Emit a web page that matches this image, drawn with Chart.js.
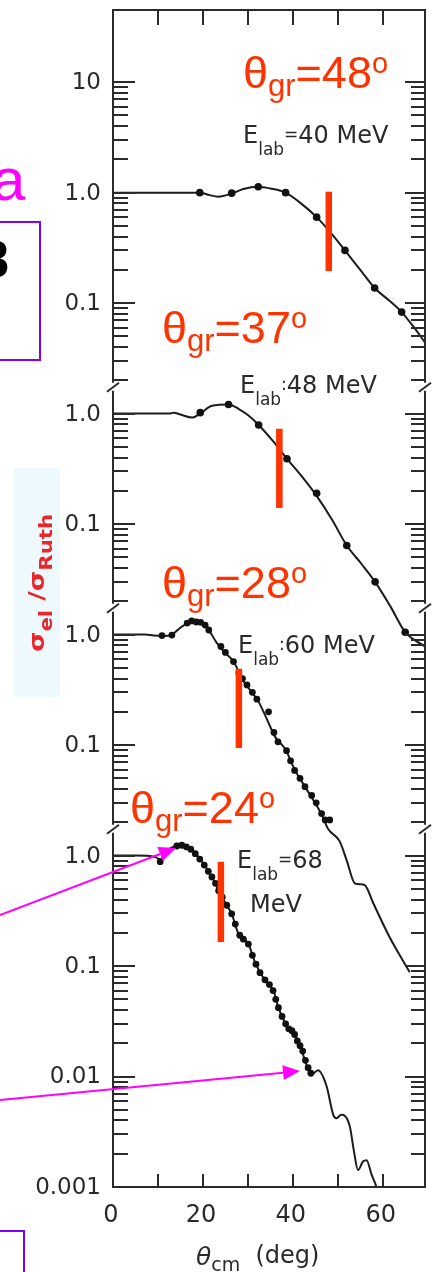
<!DOCTYPE html>
<html>
<head>
<meta charset="utf-8">
<script src="https://cdn.jsdelivr.net/npm/chart.js@4.4.0/dist/chart.umd.min.js"></script>
<style>
  html, body { margin: 0; padding: 0; background: #fff; }
  canvas { display: block; }
</style>
</head>
<body>
<canvas id="chart" width="442" height="1272"></canvas>
<script>
// --- DATA ---
const energies = ['40', '48', '60', '68'];
const separators = ['=', ':', ':', '='];
const grazingAngles = [48, 37, 28, 24];
const grazingBarTop = [1.02, 0.73, 0.49, 0.88];
const grazingBarBottom = [0.195, 0.14, 0.094, 0.165];
// each energy sits two decades above the one below it on the shared axis
const panelShift = [1e6, 1e4, 1e2, 1];

// optical model curves, [theta_cm, sigma/sigma_Ruth]
const theory40 = [[0, 1.0], [10, 1.0], [19.3, 1.0], [21.5, 0.95], [23.4, 0.92], [26.4, 0.98], [29, 1.08], [32.3, 1.13],
  [35, 1.09], [38.4, 1.0], [41.8, 0.8], [45.3, 0.6], [48.5, 0.43], [51.6, 0.3], [55, 0.2], [58.2, 0.137],
  [61.5, 0.105], [64.2, 0.083], [67, 0.06], [69.4, 0.044]];
const theory48 = [[0, 1.0], [10, 1.0], [12.5, 1.0], [13.5, 1.02], [15, 0.98], [17.6, 0.92], [19.4, 1.0], [22, 1.18],
  [25.7, 1.21], [28, 1.1], [30, 0.97], [32.4, 0.79], [35.5, 0.57], [38.7, 0.39], [42, 0.27], [45.3, 0.18],
  [48.7, 0.11], [52, 0.064], [55.2, 0.044], [58.3, 0.030], [61.7, 0.018], [65, 0.0105], [69.4, 0.0078]];
const theory60 = [[0, 1.0], [5, 1.0], [7.2, 1.0], [9, 0.98], [10.9, 0.97], [13.1, 1.0], [15.3, 1.18], [17.6, 1.3],
  [19.5, 1.28], [21.3, 1.1], [23, 0.85], [25, 0.68], [26.8, 0.57], [29, 0.38], [30.9, 0.3], [32.4, 0.246],
  [34, 0.18], [36.1, 0.118], [38.3, 0.092], [40.5, 0.059], [42.7, 0.042], [44.2, 0.0335], [46.4, 0.0236],
  [47.9, 0.0173], [50.4, 0.0135], [52, 0.009], [53.8, 0.0056], [55, 0.0055], [56, 0.0054], [57.9, 0.0037],
  [61.6, 0.0018], [66, 0.00088]];
const theory68 = [[0, 1.0], [5, 1.0], [9.4, 0.97], [10.5, 0.92], [12.7, 1.16], [15.3, 1.24], [17.6, 1.12],
  [19.8, 0.88], [22, 0.64], [23.5, 0.48], [25.3, 0.354], [26.4, 0.297], [27.9, 0.196], [30.1, 0.159],
  [31.6, 0.108], [33.8, 0.074], [35.7, 0.06], [36.8, 0.042], [38.6, 0.029], [40.4, 0.024], [41.9, 0.0175],
  [43, 0.0129], [44.2, 0.0104], [45.6, 0.0114], [47.5, 0.0082], [49, 0.0045], [49.7, 0.0042], [50.8, 0.0045],
  [51.6, 0.0044], [52.7, 0.0035], [53.6, 0.0021], [54.5, 0.00142], [55.6, 0.0017], [56.4, 0.00175],
  [57.5, 0.0013], [58.6, 0.001], [59.5, 0.0007]];

// measured points
const data40 = [[19.3, 1.0], [26.4, 0.99], [32.3, 1.13], [38.4, 1.0], [45.3, 0.6], [51.6, 0.3], [58.2, 0.137], [64.2, 0.083]];
const data48 = [[19.4, 1.02], [25.7, 1.21], [32.4, 0.79], [38.7, 0.39], [45.3, 0.19], [52, 0.064], [58.3, 0.030], [65, 0.0105]];
const data60 = [[10.9, 0.98], [13.1, 0.99], [16.5, 1.27], [17.5, 1.33], [18.5, 1.3], [19.5, 1.29], [20.5, 1.22],
  [21.3, 1.1], [24, 0.78], [25, 0.69], [26.8, 0.57], [28, 0.45], [28.8, 0.40], [29.8, 0.35], [31, 0.3],
  [32, 0.26], [34.6, 0.2], [35.8, 0.13], [36.7, 0.107], [38.6, 0.089], [39.5, 0.072], [40.4, 0.059],
  [41.6, 0.05], [42.7, 0.042], [44.2, 0.035], [45.2, 0.03], [46.4, 0.024], [47.2, 0.021], [48.2, 0.021]];
const data68 = [[10.5, 0.88], [14.2, 1.22], [15.3, 1.24], [16.3, 1.2], [17.3, 1.14], [18.3, 1.04], [19.3, 0.93],
  [20.3, 0.82], [21.2, 0.72], [22, 0.64], [22.8, 0.56], [23.5, 0.48], [24.3, 0.42], [25.3, 0.355], [26.4, 0.297],
  [27.2, 0.24], [28.2, 0.19], [29, 0.175], [30.1, 0.158], [31, 0.125], [31.8, 0.104], [32.7, 0.087], [33.8, 0.075],
  [34.8, 0.068], [35.6, 0.06], [36.2, 0.05], [36.8, 0.042], [37.6, 0.035], [38.4, 0.03], [39.1, 0.027],
  [39.8, 0.026], [40.4, 0.024], [41, 0.021], [41.6, 0.019], [42.2, 0.017], [42.8, 0.014], [43.4, 0.012], [44, 0.0107]];

// axis ticks
const xTickValues = [10, 20, 30, 40, 50, 60];
const xLabelValues = [0, 20, 40, 60];
const yTickValues = [[10, 1, 0.1], [1, 0.1], [1, 0.1], [1, 0.1, 0.01, 0.001]];
const yTickText = [['10', '1.0', '0.1'], ['1.0', '0.1'], ['1.0', '0.1'], ['1.0', '0.1', '0.01', '0.001']];
const tickFloor = [0.02, 0.02, 0.02, 0.001];
const tickCeil = [10, 1, 1, 1];

const theory = [theory40, theory48, theory60, theory68];
const measured = [data40, data48, data60, data68];

// --- DATASETS ---
const datasets = [];
energies.forEach((e, i) => {
  const shift = panelShift[i];
  const toXY = ([t, r]) => ({ x: t, y: r * shift });
  datasets.push({
    label: 'theta_gr ' + e,
    data: [{ x: grazingAngles[i], y: grazingBarTop[i] * shift }, { x: grazingAngles[i], y: grazingBarBottom[i] * shift }],
    showLine: true, borderColor: '#ff3300', borderWidth: 6.5, borderCapStyle: 'butt', pointRadius: 0, order: 0
  });
  datasets.push({
    label: 'data ' + e,
    data: measured[i].map(toXY),
    pointRadius: i < 2 ? 3.8 : 3.4, backgroundColor: '#111', borderWidth: 0, order: 1
  });
  datasets.push({
    label: 'fit ' + e,
    data: theory[i].map(toXY),
    showLine: true, borderColor: '#1c1c1c', borderWidth: 2, pointRadius: 0,
    cubicInterpolationMode: 'monotone', order: 2
  });
});

// --- DRAWING HELPERS ---
function line(ctx, x1, y1, x2, y2) {
  ctx.beginPath();
  ctx.moveTo(x1, y1);
  ctx.lineTo(x2, y2);
  ctx.stroke();
}

// text pieces written one after another: [text, font, baseline shift]
function run(ctx, x, y, parts) {
  parts.forEach(([t, font, dy]) => {
    ctx.font = font;
    ctx.fillText(t, x, y + dy);
    x += ctx.measureText(t).width;
  });
}

function arrow(ctx, x1, y1, x2, y2) {
  const a = Math.atan2(y2 - y1, x2 - x1);
  const head = 17, half = 7.5;
  const bx = x2 - head * Math.cos(a), by = y2 - head * Math.sin(a);
  line(ctx, x1, y1, bx, by);
  ctx.beginPath();
  ctx.moveTo(x2, y2);
  ctx.lineTo(bx + half * Math.sin(a), by - half * Math.cos(a));
  ctx.lineTo(bx - half * Math.sin(a), by + half * Math.cos(a));
  ctx.closePath();
  ctx.fill();
}

// --- FRAME, TICKS AND LABELS ---
const decor = {
  id: 'decor',
  beforeDraw(chart) {
    const ctx = chart.ctx;
    ctx.save();
    ctx.fillStyle = '#fff';
    ctx.fillRect(0, 0, chart.width, chart.height);
    ctx.fillStyle = '#edf9fc';
    ctx.fillRect(14, 468, 46, 229);
    ctx.restore();
  },
  afterDraw(chart) {
    const ctx = chart.ctx;
    const { left, right, top, bottom } = chart.chartArea;
    const xs = chart.scales.x, ys = chart.scales.y;
    ctx.save();
    ctx.strokeStyle = '#2b2b2b';
    ctx.lineWidth = 2;

    // axis breaks just above each lower energy
    const breaks = panelShift.slice(1).map(s => ys.getPixelForValue(1.75 * s));
    [left, right].forEach(xPos => {
      let y0 = top;
      breaks.forEach(b => { line(ctx, xPos, y0, xPos, b - 4); y0 = b + 4; });
      line(ctx, xPos, y0, xPos, bottom);
      breaks.forEach(b => line(ctx, xPos - 6, b + 5, xPos + 6, b - 4));
    });
    line(ctx, left - 1, top, right + 1, top);
    line(ctx, left - 1, bottom, right + 1, bottom);

    // log ticks, pointing inwards on both sides
    panelShift.forEach((shift, p) => {
      const lo = tickFloor[p], hi = tickCeil[p];
      for (let k = Math.floor(Math.log10(lo) + 1e-9); k <= Math.round(Math.log10(hi)); k++) {
        for (let m = 1; m <= 9; m++) {
          const v = m * Math.pow(10, k);
          if (v < lo * 0.999 || v > hi * 1.001) continue;
          const yPix = Math.round(ys.getPixelForValue(v * shift));
          line(ctx, left, yPix, left + (m === 1 ? 22 : 15), yPix);
          line(ctx, right, yPix, right - (m === 1 ? 20 : 14), yPix);
        }
      }
    });
    xTickValues.forEach(t => {
      const xPix = Math.round(xs.getPixelForValue(t));
      line(ctx, xPix, bottom, xPix, bottom - 13);
      line(ctx, xPix, top, xPix, top + 15);
    });

    ctx.fillStyle = '#2a2a2a';
    ctx.font = '23px "DejaVu Sans"';
    ctx.textAlign = 'right';
    ctx.textBaseline = 'middle';
    yTickValues.forEach((vals, p) => vals.forEach((v, j) => {
      ctx.fillText(yTickText[p][j], left - 12, ys.getPixelForValue(v * panelShift[p]) + 1);
    }));
    ctx.font = '24px "DejaVu Sans"';
    ctx.textAlign = 'center';
    ctx.textBaseline = 'alphabetic';
    xLabelValues.forEach(t => ctx.fillText(String(t), xs.getPixelForValue(t) - 2, 1222));

    ctx.textAlign = 'left';
    run(ctx, 196, 1265, [['θ', 'italic 25px "DejaVu Sans"', 0], ['cm', '19px "DejaVu Sans"', 6], ['  (deg)', '24px "DejaVu Sans"', -2]]);

    // beam energy labels
    const eSpots = [[243, 143], [240, 393], [238, 653], [237, 868]];
    energies.forEach((e, i) => {
      const [ex, ey] = eSpots[i];
      const rest = i === 3 ? e : e + ' MeV';
      run(ctx, ex, ey, [['E', '24px "DejaVu Sans"', 0], ['lab', '17px "DejaVu Sans"', 12],
        [separators[i], '17px "DejaVu Sans"', -3], [rest, '24px "DejaVu Sans"', 0]]);
    });
    ctx.font = '24px "DejaVu Sans"';
    ctx.fillText('MeV', 250, 912);

    // grazing angles
    const grSpots = [[243, 88], [162, 343], [162, 598], [130, 823]];
    ctx.fillStyle = '#ff3300';
    grazingAngles.forEach((g, i) => {
      const [gx, gy] = grSpots[i];
      run(ctx, gx, gy, [['θ', '45px "Liberation Sans"', 0], ['gr', '31px "Liberation Sans"', 8],
        ['=' + g, '45px "Liberation Sans"', 0], ['o', '29px "Liberation Sans"', -15]]);
    });

    // y axis title
    ctx.save();
    ctx.translate(44, 652);
    ctx.rotate(-Math.PI / 2);
    ctx.scale(1.25, 1);
    ctx.fillStyle = '#e8262b';
    run(ctx, 0, 0, [['σ', 'bold 21px "DejaVu Sans"', 0], ['el', 'bold 17px "DejaVu Sans"', 8],
      [' /', 'bold 21px "DejaVu Sans"', 0], ['σ', 'bold 21px "DejaVu Sans"', 0], ['Ruth', 'bold 17px "DejaVu Sans"', 8]]);
    ctx.restore();

    // slide notes along the left edge
    ctx.fillStyle = '#ff00ff';
    ctx.font = '60px "Liberation Sans"';
    ctx.fillText('a', -8, 200);
    ctx.fillStyle = '#000';
    ctx.font = 'bold 52px "Liberation Sans"';
    ctx.fillText('8', -20, 277);
    ctx.strokeStyle = '#8000ff';
    ctx.lineWidth = 2;
    ctx.strokeRect(-10, 222, 50, 138);
    ctx.strokeRect(-10, 1231, 34, 60);

    ctx.strokeStyle = '#ff00ff';
    ctx.fillStyle = '#ff00ff';
    ctx.lineWidth = 2;
    arrow(ctx, 0, 915, 176, 848);
    arrow(ctx, 0, 1100, 300, 1071);
    ctx.restore();
  }
};

new Chart(document.getElementById('chart'), {
  type: 'scatter',
  data: { datasets },
  options: {
    responsive: false,
    animation: false,
    devicePixelRatio: 1,
    layout: { padding: { left: 113, right: 17, top: 10, bottom: 85 } },
    plugins: { legend: { display: false }, tooltip: { enabled: false } },
    events: [],
    scales: {
      x: { type: 'linear', display: false, bounds: 'data', min: 0, max: 69.4 },
      y: { type: 'logarithmic', display: false, bounds: 'data', min: 1e-3, max: 4.5e7 }
    }
  },
  plugins: [decor]
});
</script>
</body>
</html>
